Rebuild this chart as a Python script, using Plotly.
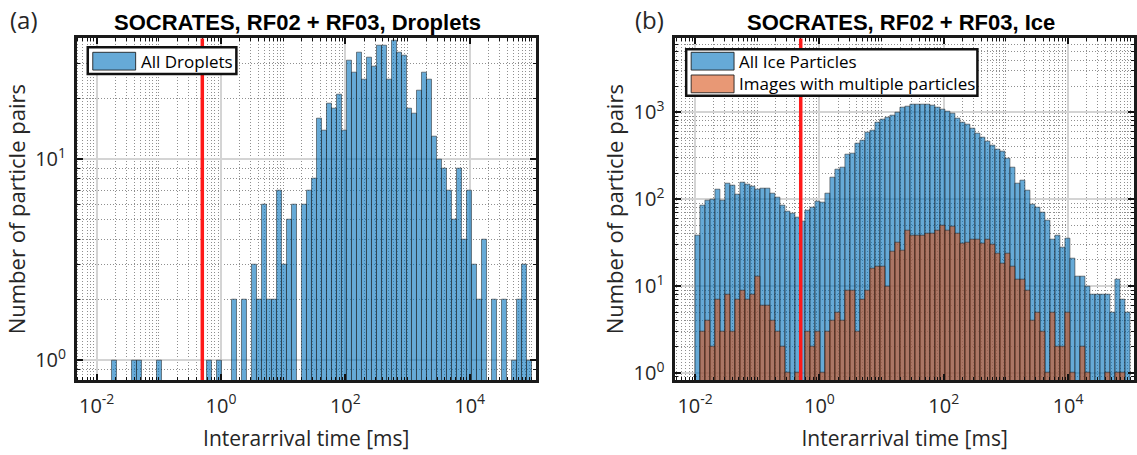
import numpy as np
import plotly.graph_objects as go

# ---------------- data ----------------
BIN_LOG10_MIN = -2.0
BIN_LOG10_MAX = 5.0
N_BINS = 87
THRESHOLD_MS = 0.5

DROPLET_COUNTS = [0, 0, 0, 1, 0, 0, 0, 1, 1, 0,
                  0, 0, 1, 0, 0, 0, 0, 0, 0, 0,
                  0, 0, 1, 0, 1, 0, 0, 2, 0, 2,
                  0, 3, 2, 6, 2, 2, 7, 3, 5, 6,
                  0, 6, 7, 8, 16, 14, 19, 18, 21, 14,
                  31, 27, 34, 25, 32, 29, 37, 37, 25, 39,
                  34, 33, 18, 17, 22, 27, 25, 13, 10, 9,
                  7, 5, 9, 4, 7, 3, 2, 4, 0, 2,
                  0, 2, 0, 1, 2, 3, 1]

ICE_ALL_COUNTS = [38, 85, 97, 100, 131, 97, 152, 145, 113, 154,
                  147, 140, 129, 134, 134, 115, 105, 85, 72, 68,
                  61, 56, 75, 80, 94, 92, 118, 178, 222, 235,
                  330, 335, 436, 480, 595, 625, 770, 820, 880, 930,
                  1000, 1125, 1175, 1230, 1250, 1230, 1230, 1210, 1125, 1077,
                  1013, 961, 850, 773, 726, 654, 568, 511, 460, 411,
                  370, 351, 294, 232, 150, 166, 126, 88, 81, 71,
                  57, 34, 38, 28, 35, 21, 13, 13, 10, 8,
                  8, 8, 8, 5, 12, 7, 5]

ICE_MULTI_COUNTS = [0, 3, 4, 2, 7, 3, 8, 3, 7, 9,
                    7, 8, 13, 6, 6, 4, 3, 2, 1, 0,
                    1, 0, 3, 2, 3, 1, 3, 4, 5, 4,
                    9, 9, 3, 7, 9, 16, 17, 17, 10, 25,
                    32, 26, 44, 38, 38, 38, 40, 40, 44, 50,
                    44, 48, 40, 31, 32, 34, 34, 31, 34, 30,
                    24, 18, 24, 17, 12, 12, 9, 4, 5, 3,
                    1, 5, 2, 2, 5, 1, 0, 2, 1, 0,
                    0, 0, 1, 0, 1, 1, 0]

X_TICK_VALS = [1e-2, 1e0, 1e2, 1e4]
X_TICK_TEXT = ["10<sup>-2</sup>", "10<sup>0</sup>", "10<sup>2</sup>", "10<sup>4</sup>"]
Y1_TICK_VALS = [1, 10]
Y1_TICK_TEXT = ["10<sup>0</sup>", "10<sup>1</sup>"]
Y2_TICK_VALS = [1, 10, 100, 1000]
Y2_TICK_TEXT = ["10<sup>0</sup>", "10<sup>1</sup>", "10<sup>2</sup>", "10<sup>3</sup>"]

X_RANGE = (10 ** -2.32, 10 ** 5.06)
Y1_RANGE = (0.8, 40)
Y2_RANGE = (0.83, 7100)

TITLES = ["SOCRATES, RF02 + RF03, Droplets", "SOCRATES, RF02 + RF03, Ice"]
PANEL_LABELS = ["(a)", "(b)"]
LEGEND_LEFT = ["All Droplets"]
LEGEND_RIGHT = ["All Ice Particles", "Images with multiple particles"]
X_TITLE = "Interarrival time [ms]"
Y_TITLE = "Number of particle pairs"

# ---------------- styling ----------------
W, H = 1137, 455
BLUE = "rgba(0,114,189,0.6)"
BROWN = "rgba(217,83,25,0.6)"
EDGE = "rgba(25,25,25,0.85)"
TXT = "#262626"
FONT = "Open Sans, Liberation Sans, Arial, sans-serif"
BOLD_FONT = "Liberation Sans, Arial, sans-serif"

edges = 10 ** np.linspace(BIN_LOG10_MIN, BIN_LOG10_MAX, N_BINS + 1)
lefts = edges[:-1]
widths = np.diff(edges)


def counts_or_none(c):
    return [v if v > 0 else None for v in c]


def px(x):
    return x / W


def py(y):
    return 1 - y / H


fig = go.Figure()

bar_common = dict(x=lefts, width=widths, offset=0, showlegend=False)
fig.add_trace(go.Bar(y=counts_or_none(DROPLET_COUNTS), name=LEGEND_LEFT[0],
                     marker=dict(color=BLUE, line=dict(color=EDGE, width=0.6)),
                     xaxis="x", yaxis="y", **bar_common))
fig.add_trace(go.Bar(y=counts_or_none(ICE_ALL_COUNTS), name=LEGEND_RIGHT[0],
                     marker=dict(color=BLUE, line=dict(color=EDGE, width=0.6)),
                     xaxis="x2", yaxis="y2", **bar_common))
fig.add_trace(go.Bar(y=counts_or_none(ICE_MULTI_COUNTS), name=LEGEND_RIGHT[1],
                     marker=dict(color=BROWN, line=dict(color=EDGE, width=0.6)),
                     xaxis="x2", yaxis="y2", **bar_common))


def minor_vals(lo, hi, majors):
    vals = []
    for n in range(lo, hi + 1):
        for k in range(1, 10):
            v = k * 10.0 ** n
            if not any(abs(v - m) / m < 1e-9 for m in majors):
                vals.append(v)
    return vals


GRID_MINOR = dict(ticks="inside", ticklen=3, tickwidth=1, tickcolor="#111",
                  showgrid=True, gridcolor="#8f8f8f", gridwidth=1, griddash="1px,2px")


def xaxis_cfg(domain, anchor):
    return dict(
        type="log", domain=domain, anchor=anchor,
        range=[np.log10(X_RANGE[0]), np.log10(X_RANGE[1])],
        tickmode="array", tickvals=X_TICK_VALS, ticktext=X_TICK_TEXT,
        ticks="inside", ticklen=6, tickwidth=1.5, tickcolor="#111",
        showline=True, linecolor="#1a1a1a", linewidth=2.5, mirror="allticks",
        showgrid=True, gridcolor="#d4d4d4", gridwidth=1.8,
        minor=dict(tickmode="array", tickvals=minor_vals(-3, 5, X_TICK_VALS), **GRID_MINOR),
        tickfont=dict(family=FONT, size=20, color=TXT),
        ticklabelstandoff=6,
        title=dict(text=X_TITLE, font=dict(family=FONT, size=21, color=TXT), standoff=14),
        zeroline=False,
    )


def yaxis_cfg(domain, anchor, rng, tv, tt):
    return dict(
        type="log", domain=domain, anchor=anchor,
        range=[np.log10(rng[0]), np.log10(rng[1])],
        tickmode="array", tickvals=tv, ticktext=tt,
        ticks="inside", ticklen=6, tickwidth=1.5, tickcolor="#111",
        showline=True, linecolor="#1a1a1a", linewidth=2.5, mirror="allticks",
        showgrid=True, gridcolor="#d4d4d4", gridwidth=1.8,
        minor=dict(tickmode="array", tickvals=minor_vals(-1, 4, tv), **GRID_MINOR),
        tickfont=dict(family=FONT, size=20, color=TXT),
        ticklabelstandoff=4,
        title=dict(text=Y_TITLE, font=dict(family=FONT, size=22, color=TXT), standoff=4),
        zeroline=False,
    )


YDOM = [py(385), py(39)]
layout = dict(
    width=W, height=H,
    margin=dict(l=0, r=0, t=0, b=0),
    paper_bgcolor="white", plot_bgcolor="white",
    barmode="overlay", bargap=0,
    showlegend=False,
    xaxis=xaxis_cfg([px(77), px(537)], "y"),
    yaxis=yaxis_cfg(YDOM, "x", Y1_RANGE, Y1_TICK_VALS, Y1_TICK_TEXT),
    xaxis2=xaxis_cfg([px(677), 1.0], "y2"),
    yaxis2=yaxis_cfg(YDOM, "x2", Y2_RANGE, Y2_TICK_VALS, Y2_TICK_TEXT),
)
fig.update_layout(**layout)

shapes = []
annotations = []

for xr in ["x", "x2"]:
    shapes.append(dict(type="line", xref=xr, yref=("y domain" if xr == "x" else "y2 domain"),
                       x0=THRESHOLD_MS, x1=THRESHOLD_MS, y0=0, y1=1,
                       line=dict(color="#ff1a1a", width=3.5), layer="above"))

for cx, t in [(298, TITLES[0]), (903, TITLES[1])]:
    annotations.append(dict(text="<b>" + t + "</b>", x=px(cx), y=py(23), xref="paper", yref="paper",
                            showarrow=False, xanchor="center", yanchor="middle",
                            font=dict(family=BOLD_FONT, size=22, color="black")))
for cx, lab in [(24, PANEL_LABELS[0]), (651, PANEL_LABELS[1])]:
    annotations.append(dict(text=lab, x=px(cx), y=py(20), xref="paper", yref="paper",
                            showarrow=False, xanchor="center", yanchor="middle",
                            font=dict(family=FONT, size=24, color=TXT)))


def legend_box(x0, y0, x1, y1, entries):
    shapes.append(dict(type="rect", xref="paper", yref="paper",
                       x0=px(x0), x1=px(x1), y0=py(y1), y1=py(y0),
                       fillcolor="white", line=dict(color="#111", width=2.5), layer="above"))
    for (label, color, ry0, ry1) in entries:
        shapes.append(dict(type="rect", xref="paper", yref="paper",
                           x0=px(x0 + 5), x1=px(x0 + 48), y0=py(ry1), y1=py(ry0),
                           fillcolor=color, line=dict(color=EDGE, width=1), layer="above"))
        annotations.append(dict(text=label, x=px(x0 + 51), y=py((ry0 + ry1) / 2),
                                xref="paper", yref="paper", showarrow=False,
                                xanchor="left", yanchor="middle",
                                font=dict(family=FONT, size=17, color="black")))


legend_box(88, 48, 237, 75, [(LEGEND_LEFT[0], BLUE, 53, 71)])
legend_box(688, 50, 980, 97, [(LEGEND_RIGHT[0], BLUE, 53, 71),
                              (LEGEND_RIGHT[1], BROWN, 76, 94)])

fig.update_layout(shapes=shapes, annotations=annotations)
fig.write_html("out.html")
